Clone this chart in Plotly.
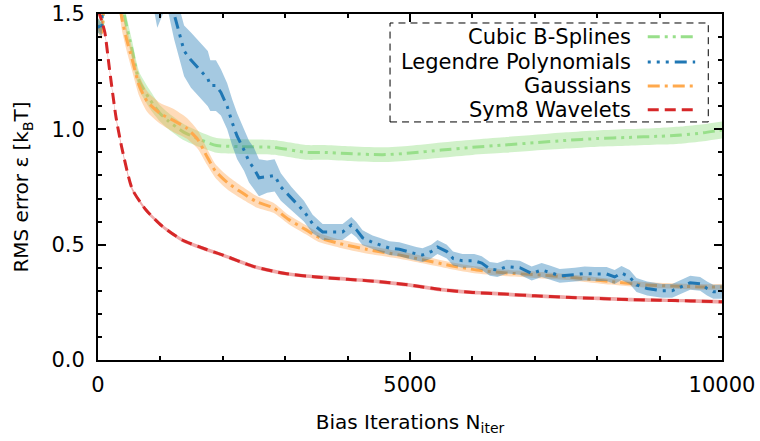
import plotly.graph_objects as go

# ---------------- data ----------------
spl_n = [0, 60, 100, 200, 300, 420, 550, 660, 830, 990, 1110, 1360, 1640, 1900, 2280, 2810, 3350,
         3600, 4000, 4560, 5000, 5500, 6000, 6500, 7000, 7500, 8000, 8500, 9000, 9340, 9700, 10000]
spl_v = [1.45, 1.44, 1.75, 2.1, 1.8, 1.5, 1.34, 1.21, 1.13, 1.07, 1.04, 0.99, 0.955, 0.93, 0.925, 0.922, 0.90,
         0.90, 0.895, 0.89, 0.897, 0.91, 0.922, 0.932, 0.942, 0.952, 0.96, 0.965, 0.97, 0.975, 0.985, 0.997]
spl_s = [0.03, 0.03, 0.04, 0.04, 0.04, 0.04, 0.04, 0.04, 0.04, 0.035, 0.035, 0.035, 0.033, 0.032, 0.032, 0.032, 0.032,
         0.032, 0.032, 0.032, 0.032, 0.033, 0.033, 0.034, 0.034, 0.035, 0.035, 0.036, 0.036, 0.037, 0.037, 0.037]

leg_n = [0, 60, 100, 300, 600, 800, 950, 1100, 1220, 1300, 1380, 1490, 1620, 1760, 1800, 1890, 1970, 2070,
         2150, 2230, 2340, 2420, 2500, 2580, 2710, 2830, 2930, 3100, 3300, 3440, 3600, 3760, 3920, 4060,
         4140, 4240, 4400, 4510, 4670, 4830, 4960, 5100, 5200, 5340, 5440, 5590, 5690, 5840, 6030, 6150,
         6280, 6400, 6550, 6760, 6950, 7110, 7240, 7400, 7640, 7800, 7960, 8150, 8280, 8390, 8520, 8630,
         8800, 9040, 9200, 9360, 9490, 9650, 9760, 9860, 10000]
leg_v = [1.45, 1.43, 1.8, 2.3, 2.1, 1.8, 1.6, 1.66, 1.5, 1.42, 1.34, 1.30, 1.26, 1.22, 1.19, 1.19, 1.16, 1.10,
         1.03, 0.97, 0.91, 0.86, 0.83, 0.79, 0.795, 0.80, 0.75, 0.70, 0.645, 0.59, 0.555, 0.555, 0.555, 0.585,
         0.565, 0.53, 0.51, 0.50, 0.485, 0.48, 0.47, 0.46, 0.455, 0.47, 0.49, 0.47, 0.44, 0.43, 0.43, 0.42,
         0.395, 0.39, 0.405, 0.40, 0.375, 0.39, 0.38, 0.365, 0.37, 0.375, 0.373, 0.373, 0.36, 0.377, 0.36, 0.325,
         0.31, 0.30, 0.30, 0.32, 0.335, 0.33, 0.31, 0.296, 0.296]
leg_s = [0.03, 0.03, 0.1, 0.15, 0.15, 0.15, 0.16, 0.12, 0.11, 0.11, 0.11, 0.12, 0.12, 0.12, 0.11, 0.11, 0.1, 0.1,
         0.1, 0.1, 0.09, 0.09, 0.09, 0.08, 0.07, 0.07, 0.06, 0.05, 0.045, 0.04, 0.035, 0.035, 0.035, 0.035,
         0.033, 0.032, 0.03, 0.03, 0.03, 0.03, 0.03, 0.03, 0.03, 0.03, 0.03, 0.03, 0.03, 0.03, 0.03, 0.03,
         0.03, 0.03, 0.03, 0.03, 0.03, 0.03, 0.03, 0.03, 0.03, 0.03, 0.03, 0.03, 0.03, 0.03, 0.03, 0.03,
         0.03, 0.03, 0.03, 0.03, 0.03, 0.03, 0.03, 0.03, 0.03]

gau_n = [0, 60, 100, 200, 300, 370, 450, 550, 660, 790, 990, 1200, 1420, 1600, 1750, 1880, 2070, 2280,
         2550, 2810, 3050, 3330, 3550, 3870, 4300, 4830, 5200, 5640, 6070, 6550, 7000, 7510, 8200, 8800,
         9300, 9650, 10000]
gau_v = [1.45, 1.42, 1.75, 2.1, 1.8, 1.5, 1.40, 1.30, 1.19, 1.12, 1.07, 1.04, 1.005, 0.955, 0.88, 0.82, 0.77, 0.73,
         0.685, 0.66, 0.61, 0.565, 0.53, 0.505, 0.48, 0.455, 0.435, 0.41, 0.39, 0.377, 0.37, 0.36, 0.34, 0.325,
         0.32, 0.317, 0.317]
gau_s = [0.03, 0.03, 0.05, 0.05, 0.05, 0.05, 0.05, 0.05, 0.045, 0.045, 0.045, 0.05, 0.045, 0.04, 0.035, 0.03, 0.03, 0.028,
         0.025, 0.022, 0.02, 0.02, 0.02, 0.018, 0.018, 0.016, 0.016, 0.015, 0.015, 0.014, 0.014, 0.013, 0.013, 0.012,
         0.012, 0.012, 0.012]

sym_n = [0, 60, 110, 180, 290, 390, 550, 770, 1030, 1350, 1730, 2000, 2500, 3000, 3500, 4000, 4500, 5000,
         5500, 6000, 6500, 7000, 7500, 8000, 8500, 9000, 9500, 10000]
sym_v = [1.52, 1.47, 1.42, 1.27, 1.05, 0.91, 0.74, 0.65, 0.58, 0.52, 0.48, 0.455, 0.405, 0.375, 0.36, 0.35, 0.34, 0.325,
         0.305, 0.293, 0.286, 0.278, 0.272, 0.267, 0.262, 0.259, 0.256, 0.252]
sym_s = [0.008] * len(sym_n)

x_ticks = [0, 5000, 10000]
y_ticks = [0.0, 0.5, 1.0, 1.5]

series = [
    ("Cubic B-Splines", spl_n, spl_v, spl_s, "#98df8a", "rgba(152,223,138,0.45)", "12px,5px,3px,5px,3px,5px", "spline"),
    ("Gaussians", gau_n, gau_v, gau_s, "#ffa94d", "rgba(255,160,70,0.38)", "12px,5px,3px,5px", "spline"),
    ("Legendre Polynomials", leg_n, leg_v, leg_s, "#1f77b4", "rgba(31,119,180,0.4)", "3px,6px,3px,6px,3px,6px,12px,6px", "linear"),
    ("Sym8 Wavelets", sym_n, sym_v, sym_s, "#d62728", "rgba(214,39,40,0.4)", "11px,6px", "spline"),
]
legend_order = ["Cubic B-Splines", "Legendre Polynomials", "Gaussians", "Sym8 Wavelets"]

FONT = "DejaVu Sans"
fig = go.Figure()
for name, n, v, s, col, band, dash, shape in series:
    up = [a + b for a, b in zip(v, s)]
    lo = [a - b for a, b in zip(v, s)]
    fig.add_trace(go.Scatter(x=n, y=up, mode="lines", line=dict(width=0, shape=shape, smoothing=0.6),
                             showlegend=False, hoverinfo="skip"))
    fig.add_trace(go.Scatter(x=n, y=lo, mode="lines", line=dict(width=0, shape=shape, smoothing=0.6),
                             fill="tonexty", fillcolor=band, showlegend=False, hoverinfo="skip"))
    fig.add_trace(go.Scatter(x=n, y=v, mode="lines", name=name,
                             line=dict(color=col, width=3, dash=dash, shape=shape, smoothing=0.6),
                             showlegend=False))

# manual legend (text right-aligned, sample on the right, dashed frame)
style = {s[0]: (s[4], s[6]) for s in series}
rows_y = [0.934, 0.861, 0.792, 0.723]
shapes = [dict(type="rect", xref="paper", yref="paper", x0=0.468, x1=0.978, y0=0.688, y1=0.974,
               line=dict(color="black", width=1, dash="7px,5px"), fillcolor="rgba(255,255,255,0.8)", layer="above")]
annotations = []
for name, yy in zip(legend_order, rows_y):
    col, dash = style[name]
    shapes.append(dict(type="line", xref="paper", yref="paper", x0=0.881, x1=0.957, y0=yy, y1=yy,
                       line=dict(color=col, width=3, dash=dash), layer="above"))
    annotations.append(dict(text=name, xref="paper", yref="paper", x=0.857, y=yy, xanchor="right",
                            yanchor="middle", showarrow=False, font=dict(family=FONT, size=21, color="black")))

axis_common = dict(showgrid=False, zeroline=False, showline=True, linecolor="black", linewidth=2,
                   mirror="ticks", ticks="inside", tickcolor="black", tickwidth=1.5, ticklen=8,
                   automargin=False, tickfont=dict(family=FONT, size=21, color="black"))
fig.update_layout(
    width=760, height=441, margin=dict(l=98, r=38, t=14, b=81),
    paper_bgcolor="white", plot_bgcolor="white",
    font=dict(family=FONT, size=20, color="black"),
    showlegend=False, shapes=shapes, annotations=annotations,
    xaxis=dict(range=[0, 10000], tickmode="array", tickvals=x_ticks, ticktext=[str(t) for t in x_ticks],
               ticklabelstandoff=5,
               minor=dict(dtick=1000, tick0=0, ticks="inside", ticklen=4, tickwidth=1.5, tickcolor="black"),
               title=dict(text="Bias Iterations N<sub>iter</sub>", standoff=19, font=dict(family=FONT, size=20)),
               **axis_common),
    yaxis=dict(range=[0, 1.5], tickmode="array", tickvals=y_ticks, ticktext=[f"{t:.1f}" for t in y_ticks],
               ticklabelstandoff=7,
               minor=dict(dtick=0.1, tick0=0, ticks="inside", ticklen=4, tickwidth=1.5, tickcolor="black"),
               title=dict(text="RMS error ε [k<sub>B</sub>T]", standoff=17, font=dict(family=FONT, size=20)),
               **axis_common),
)
fig.write_html("out.html")
